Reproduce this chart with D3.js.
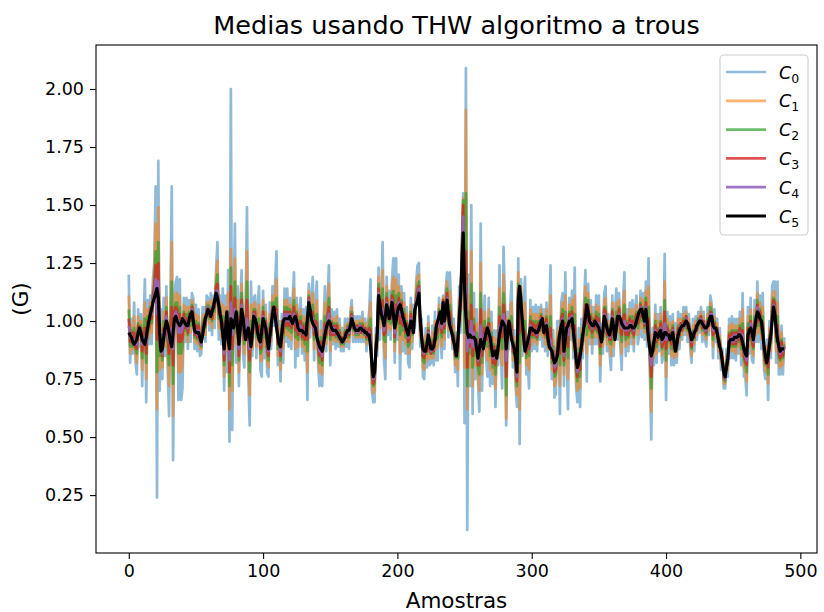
<!DOCTYPE html>
<html><head><meta charset="utf-8">
<script src="https://cdn.jsdelivr.net/npm/d3@7"></script>
<style>body{margin:0;background:#fff}svg{display:block}text{font-family:"DejaVu Sans",sans-serif;fill:#000}</style>
</head><body><svg id="chart" width="824" height="612"></svg>
<script>
const c0 = [
1.20,0.82,1.01,0.86,1.08,0.83,0.77,1.05,0.89,1.03,
0.72,0.99,1.18,0.65,1.09,0.90,1.11,0.90,1.18,1.25,
1.58,0.24,1.69,0.70,1.05,0.75,1.10,0.85,1.15,0.80,
0.59,1.06,1.58,0.40,1.11,1.17,1.19,0.66,1.18,0.66,
0.71,1.10,0.91,1.10,0.88,1.09,0.91,1.12,1.10,0.88,
1.07,0.87,1.05,0.85,0.86,1.06,1.06,0.91,1.11,1.10,
0.96,1.12,0.94,1.11,0.97,1.22,1.34,0.92,1.11,0.90,
1.14,0.70,1.11,0.78,1.22,0.48,2.00,0.53,1.05,1.42,
0.82,1.15,0.72,1.07,1.22,0.87,0.80,1.04,1.49,0.77,
0.55,1.17,0.85,1.10,1.11,0.84,1.07,1.15,0.79,0.76,
1.13,0.84,1.07,0.78,0.76,1.08,0.88,1.15,0.98,1.17,
1.30,0.81,1.00,0.74,1.03,0.82,1.14,0.91,1.14,0.89,
1.10,0.88,1.09,1.21,0.80,1.10,0.85,1.04,1.10,0.86,
1.05,0.83,1.06,0.66,1.16,0.93,1.11,1.19,0.83,1.09,
1.17,0.81,0.72,1.00,0.72,0.98,1.15,0.87,1.09,1.24,
0.81,1.05,0.90,1.04,0.88,1.05,0.89,1.01,0.87,0.97,
0.87,1.01,0.89,1.01,0.88,1.04,1.09,0.91,1.02,0.91,
1.02,0.91,1.02,0.91,1.04,0.91,1.01,0.87,0.99,1.04,
1.18,0.70,0.65,0.65,0.97,0.85,1.23,0.92,1.11,1.34,
0.84,0.75,1.19,0.94,1.13,0.92,1.18,1.27,0.82,1.27,
0.92,1.20,0.75,1.15,0.87,1.12,0.86,1.06,0.82,0.80,
1.10,0.88,1.07,0.97,1.17,1.24,1.25,0.89,1.01,0.76,
0.75,0.97,0.80,1.02,0.81,0.82,0.98,0.81,1.04,0.83,
0.83,1.10,0.94,0.84,1.11,0.88,1.14,1.21,0.93,1.21,
1.08,0.88,1.01,0.78,0.95,0.72,1.15,0.95,1.35,1.55,
0.56,2.09,0.10,1.20,0.72,1.50,0.60,1.12,0.75,1.05,
0.74,0.61,1.42,0.70,0.98,1.11,0.85,0.76,1.10,0.72,
1.04,0.73,0.96,0.63,0.96,0.81,1.24,0.87,0.71,1.32,
1.10,0.55,1.04,0.88,1.06,1.17,0.80,0.96,0.72,0.63,
1.27,0.47,1.18,0.85,1.05,1.19,0.77,0.83,0.71,1.09,
0.87,1.06,0.88,1.07,0.87,1.06,0.92,1.07,0.89,1.05,
0.87,1.08,0.85,0.99,1.24,0.75,0.96,0.67,0.69,1.00,
1.00,0.60,1.08,1.12,0.72,1.21,0.87,0.62,1.10,0.92,
1.13,0.84,1.23,0.72,0.65,0.97,0.63,1.01,0.84,1.08,
1.22,0.74,1.16,0.90,1.09,0.86,1.06,0.90,1.11,0.90,
1.11,0.74,0.99,0.86,1.12,1.15,0.87,1.03,0.86,0.79,
1.11,0.85,1.04,1.14,0.92,1.12,0.89,0.79,1.08,1.21,
0.85,1.05,0.87,1.08,0.90,1.09,0.87,1.06,1.11,0.90,
0.94,1.13,0.93,1.12,0.92,1.17,0.89,1.27,0.78,0.49,
0.97,0.81,1.07,0.82,1.03,0.87,1.06,0.82,0.85,1.29,
0.66,1.04,0.86,1.02,0.81,1.03,0.81,0.99,0.82,1.04,
0.88,1.03,0.92,1.06,0.94,1.06,0.91,1.03,0.89,0.82,
1.01,0.87,1.02,0.92,1.04,0.95,1.06,0.91,1.04,0.92,
0.89,1.06,0.94,1.11,1.07,0.84,1.05,0.91,1.01,0.84,
0.97,0.79,0.88,0.71,0.71,0.88,0.76,1.01,0.84,1.02,
0.84,1.01,0.83,1.01,0.86,1.04,0.81,1.12,0.76,0.76,
0.68,1.06,0.86,1.10,0.83,0.82,1.09,0.91,1.17,0.91,
1.11,0.88,1.12,0.79,0.75,0.92,0.66,1.00,0.84,1.15,
1.17,1.17,0.82,1.17,0.77,0.77,0.98,0.77,0.93];
const c1 = [
1.11,0.86,0.98,0.88,1.02,0.86,0.82,1.02,0.92,1.00,
0.79,0.96,1.08,0.75,1.05,0.93,1.08,0.95,1.15,1.20,
1.42,0.62,1.49,0.79,0.99,0.80,1.04,0.89,1.10,0.86,
0.72,1.01,1.34,0.59,1.08,1.12,1.12,0.78,1.11,0.78,
0.81,1.07,0.94,1.06,0.91,1.06,0.95,1.09,1.07,0.91,
1.03,0.90,1.02,0.88,0.88,1.02,1.03,0.94,1.08,1.08,
0.99,1.09,0.97,1.09,1.01,1.19,1.26,0.97,1.08,0.93,
1.07,0.76,1.06,0.87,1.12,0.62,1.31,0.70,1.02,1.27,
0.90,1.09,0.78,1.04,1.16,0.92,0.86,1.00,1.30,0.84,
0.68,1.07,0.88,1.07,1.08,0.89,1.03,1.07,0.83,0.83,
1.09,0.89,1.04,0.83,0.80,1.03,0.91,1.11,1.01,1.12,
1.18,0.85,0.97,0.79,1.00,0.88,1.09,0.94,1.09,0.93,
1.07,0.92,1.06,1.14,0.88,1.07,0.89,1.01,1.05,0.89,
1.02,0.87,1.02,0.78,1.13,0.97,1.08,1.12,0.88,1.05,
1.09,0.84,0.78,0.96,0.77,0.95,1.08,0.90,1.06,1.16,
0.87,1.02,0.92,1.01,0.91,1.02,0.91,0.98,0.89,0.95,
0.89,0.98,0.91,0.99,0.91,1.02,1.06,0.94,1.00,0.93,
1.00,0.93,1.00,0.93,1.01,0.93,0.99,0.90,0.97,1.01,
1.08,0.74,0.69,0.70,0.94,0.88,1.19,0.97,1.08,1.22,
0.89,0.84,1.15,0.97,1.09,0.96,1.15,1.19,0.87,1.18,
0.96,1.15,0.86,1.12,0.92,1.08,0.90,1.03,0.86,0.86,
1.07,0.91,1.03,1.00,1.14,1.19,1.20,0.93,0.98,0.80,
0.79,0.94,0.83,0.99,0.84,0.84,0.95,0.84,1.00,0.88,
0.89,1.07,0.97,0.89,1.10,0.92,1.11,1.17,0.96,1.13,
1.04,0.90,0.98,0.81,0.92,0.79,1.10,1.00,1.32,1.53,
0.80,1.91,0.62,1.11,0.80,1.30,0.72,1.05,0.81,0.99,
0.77,0.70,1.25,0.77,0.95,1.04,0.88,0.83,1.05,0.79,
0.99,0.77,0.93,0.71,0.92,0.84,1.14,0.90,0.81,1.20,
1.06,0.58,1.01,0.92,1.03,1.08,0.83,0.93,0.76,0.68,
1.21,0.62,1.15,0.90,1.01,1.08,0.81,0.86,0.79,1.05,
0.90,1.03,0.91,1.03,0.90,1.03,0.94,1.05,0.93,1.02,
0.90,1.05,0.88,0.96,1.11,0.79,0.92,0.72,0.74,0.95,
0.97,0.72,1.05,1.08,0.77,1.11,0.90,0.75,1.07,0.95,
1.09,0.88,1.11,0.76,0.70,0.92,0.71,0.97,0.87,1.05,
1.15,0.86,1.12,0.93,1.06,0.90,1.03,0.93,1.07,0.93,
1.06,0.81,0.96,0.89,1.09,1.10,0.90,1.00,0.89,0.85,
1.08,0.89,1.00,1.08,0.95,1.09,0.93,0.86,1.05,1.13,
0.89,1.02,0.90,1.05,0.93,1.05,0.90,1.03,1.07,0.94,
0.97,1.10,0.97,1.09,0.95,1.13,0.92,1.15,0.81,0.61,
0.94,0.84,1.03,0.86,1.00,0.90,1.03,0.85,0.88,1.17,
0.76,1.01,0.89,0.99,0.85,1.00,0.84,0.95,0.85,1.01,
0.91,1.01,0.94,1.03,0.96,1.04,0.94,1.01,0.91,0.85,
0.98,0.90,1.00,0.94,1.02,0.97,1.04,0.94,1.02,0.94,
0.92,1.03,0.96,1.08,1.05,0.89,1.02,0.93,0.99,0.87,
0.94,0.82,0.86,0.73,0.73,0.85,0.79,0.98,0.87,0.99,
0.87,0.98,0.86,0.98,0.89,1.01,0.85,1.05,0.80,0.79,
0.74,1.02,0.89,1.05,0.87,0.85,1.05,0.94,1.12,0.95,
1.08,0.92,1.06,0.82,0.78,0.89,0.73,0.97,0.87,1.10,
1.13,1.12,0.87,1.08,0.81,0.80,0.95,0.81,0.91];
const c2 = [
1.05,0.89,0.96,0.89,0.97,0.88,0.86,0.99,0.94,0.98,
0.84,0.94,1.01,0.82,1.02,0.96,1.06,0.99,1.12,1.16,
1.30,0.78,1.34,0.85,0.94,0.83,1.00,0.92,1.06,0.91,
0.81,0.97,1.17,0.73,1.05,1.08,1.08,0.86,1.06,0.86,
0.89,1.04,0.96,1.03,0.94,1.04,0.98,1.07,1.04,0.93,
1.00,0.92,0.99,0.90,0.89,0.99,1.01,0.97,1.06,1.07,
1.01,1.06,1.00,1.08,1.04,1.16,1.20,1.01,1.06,0.96,
1.02,0.81,1.02,0.94,1.04,0.72,1.23,0.81,1.00,1.17,
0.95,1.04,0.83,1.01,1.12,0.96,0.90,0.97,1.17,0.89,
0.78,1.00,0.91,1.05,1.05,0.93,1.00,1.01,0.86,0.88,
1.06,0.93,1.01,0.86,0.83,0.99,0.94,1.08,1.03,1.08,
1.10,0.88,0.94,0.83,0.98,0.93,1.06,0.97,1.06,0.96,
1.05,0.95,1.03,1.09,0.93,1.04,0.92,0.99,1.02,0.92,
0.99,0.90,0.99,0.87,1.11,1.00,1.05,1.07,0.92,1.02,
1.03,0.87,0.82,0.93,0.81,0.93,1.02,0.93,1.03,1.10,
0.92,1.00,0.94,0.99,0.93,0.99,0.92,0.96,0.90,0.93,
0.90,0.96,0.93,0.98,0.93,1.00,1.04,0.96,0.99,0.94,
0.98,0.94,0.99,0.95,0.99,0.94,0.97,0.92,0.96,0.98,
1.01,0.77,0.72,0.73,0.91,0.91,1.16,1.01,1.06,1.14,
0.92,0.91,1.12,1.00,1.06,0.99,1.12,1.13,0.91,1.11,
0.99,1.12,0.94,1.09,0.96,1.05,0.93,1.00,0.89,0.90,
1.04,0.94,1.00,1.02,1.11,1.15,1.17,0.96,0.96,0.83,
0.82,0.91,0.86,0.97,0.87,0.86,0.92,0.86,0.97,0.92,
0.93,1.05,1.00,0.93,1.09,0.95,1.08,1.14,0.99,1.07,
1.01,0.92,0.95,0.84,0.89,0.84,1.06,1.04,1.29,1.52,
0.95,1.55,0.72,1.04,0.86,1.16,0.80,1.01,0.85,0.95,
0.80,0.77,1.12,0.82,0.92,1.00,0.91,0.89,1.01,0.85,
0.95,0.80,0.90,0.77,0.89,0.86,1.06,0.93,0.88,1.12,
1.03,0.68,0.98,0.95,1.00,1.02,0.86,0.91,0.79,0.72,
1.16,0.82,1.12,0.94,0.98,1.00,0.84,0.88,0.85,1.02,
0.93,1.00,0.93,1.00,0.92,1.00,0.96,1.03,0.96,0.99,
0.93,1.02,0.90,0.93,1.02,0.82,0.89,0.76,0.77,0.91,
0.94,0.81,1.02,1.05,0.81,1.04,0.93,0.84,1.04,0.97,
1.06,0.91,1.03,0.79,0.74,0.88,0.76,0.94,0.90,1.02,
1.10,0.94,1.09,0.96,1.03,0.93,1.01,0.96,1.04,0.95,
1.03,0.86,0.94,0.92,1.06,1.06,0.93,0.98,0.91,0.90,
1.05,0.92,0.97,1.04,0.98,1.06,0.96,0.91,1.02,1.07,
0.92,1.00,0.93,1.02,0.95,1.02,0.93,1.01,1.04,0.97,
1.00,1.08,1.00,1.06,0.97,1.10,0.95,1.06,0.84,0.71,
0.91,0.87,1.00,0.89,0.97,0.92,1.00,0.88,0.90,1.09,
0.83,0.98,0.91,0.96,0.88,0.98,0.87,0.92,0.87,0.98,
0.93,0.99,0.96,1.01,0.97,1.02,0.96,0.99,0.93,0.88,
0.96,0.92,0.98,0.96,1.01,0.98,1.02,0.96,1.00,0.95,
0.94,1.01,0.98,1.06,1.04,0.92,1.00,0.95,0.97,0.89,
0.92,0.84,0.84,0.75,0.74,0.83,0.81,0.95,0.89,0.96,
0.89,0.96,0.89,0.96,0.91,0.98,0.88,0.99,0.83,0.82,
0.78,0.99,0.92,1.02,0.90,0.88,1.02,0.97,1.09,0.98,
1.05,0.95,1.02,0.85,0.81,0.86,0.77,0.94,0.90,1.06,
1.10,1.09,0.91,1.02,0.84,0.83,0.92,0.84,0.90];
const c3 = [
1.01,0.91,0.95,0.90,0.95,0.89,0.88,0.98,0.95,0.97,
0.87,0.93,0.97,0.86,1.00,0.97,1.05,1.01,1.11,1.14,
1.24,0.92,1.25,0.89,0.92,0.85,0.97,0.94,1.04,0.93,
0.86,0.95,1.06,0.81,1.04,1.06,1.05,0.91,1.03,0.91,
0.93,1.03,0.97,1.01,0.95,1.03,1.00,1.06,1.03,0.94,
0.98,0.93,0.98,0.91,0.90,0.97,1.00,0.98,1.05,1.06,
1.02,1.05,1.01,1.07,1.06,1.15,1.16,1.03,1.05,0.97,
0.99,0.83,1.00,0.97,1.00,0.78,1.15,0.88,0.99,1.10,
0.98,1.02,0.85,1.00,1.09,0.98,0.92,0.95,1.09,0.92,
0.83,0.96,0.92,1.04,1.04,0.95,0.98,0.98,0.88,0.91,
1.04,0.95,1.00,0.88,0.85,0.97,0.95,1.06,1.04,1.06,
1.05,0.90,0.93,0.85,0.97,0.95,1.04,0.98,1.04,0.98,
1.04,0.97,1.02,1.06,0.96,1.03,0.94,0.98,1.00,0.93,
0.98,0.92,0.97,0.92,1.10,1.02,1.04,1.04,0.94,1.00,
0.99,0.88,0.85,0.91,0.83,0.92,0.99,0.94,1.02,1.06,
0.94,0.99,0.94,0.98,0.94,0.98,0.93,0.95,0.91,0.93,
0.91,0.95,0.93,0.97,0.94,1.00,1.03,0.97,0.98,0.95,
0.98,0.95,0.98,0.95,0.98,0.95,0.97,0.93,0.95,0.97,
0.96,0.79,0.73,0.75,0.90,0.92,1.14,1.03,1.05,1.09,
0.94,0.95,1.10,1.01,1.04,1.01,1.11,1.09,0.93,1.07,
1.01,1.10,0.99,1.08,0.98,1.03,0.95,0.99,0.91,0.93,
1.03,0.95,0.98,1.03,1.10,1.13,1.15,0.98,0.95,0.85,
0.84,0.90,0.87,0.96,0.88,0.86,0.91,0.87,0.95,0.94,
0.96,1.04,1.01,0.95,1.09,0.97,1.07,1.12,1.00,1.04,
0.99,0.92,0.94,0.85,0.88,0.87,1.04,1.06,1.28,1.50,
1.05,1.30,0.80,1.00,0.89,1.07,0.85,0.98,0.88,0.92,
0.81,0.81,1.05,0.85,0.91,0.97,0.92,0.92,0.99,0.88,
0.93,0.82,0.89,0.81,0.87,0.87,1.02,0.94,0.93,1.07,
1.01,0.76,0.97,0.97,0.99,0.98,0.87,0.90,0.81,0.74,
1.14,0.95,1.11,0.96,0.96,0.95,0.86,0.89,0.88,1.00,
0.94,0.99,0.94,0.98,0.93,0.99,0.96,1.02,0.98,0.98,
0.94,1.01,0.91,0.92,0.97,0.84,0.87,0.78,0.79,0.89,
0.93,0.86,1.01,1.03,0.83,0.99,0.94,0.89,1.03,0.98,
1.04,0.93,0.98,0.81,0.76,0.86,0.79,0.92,0.91,1.01,
1.07,0.99,1.07,0.97,1.02,0.95,1.00,0.97,1.02,0.96,
1.01,0.89,0.93,0.93,1.05,1.04,0.94,0.97,0.92,0.92,
1.04,0.94,0.95,1.01,0.99,1.05,0.98,0.94,1.01,1.03,
0.94,0.99,0.94,1.01,0.96,1.00,0.94,1.00,1.03,0.99,
1.01,1.07,1.02,1.05,0.98,1.08,0.96,1.01,0.85,0.76,
0.90,0.88,0.98,0.91,0.96,0.93,0.99,0.89,0.91,1.04,
0.88,0.97,0.92,0.95,0.90,0.97,0.88,0.90,0.88,0.97,
0.94,0.99,0.96,1.00,0.98,1.02,0.97,0.99,0.93,0.89,
0.95,0.93,0.98,0.96,1.00,0.99,1.02,0.97,1.00,0.96,
0.95,1.00,0.98,1.04,1.03,0.94,0.99,0.95,0.97,0.90,
0.91,0.85,0.84,0.76,0.75,0.82,0.82,0.94,0.90,0.95,
0.90,0.95,0.90,0.95,0.92,0.97,0.90,0.96,0.85,0.83,
0.81,0.97,0.93,1.00,0.92,0.89,1.00,0.98,1.07,1.00,
1.04,0.97,0.99,0.86,0.82,0.85,0.80,0.93,0.91,1.04,
1.09,1.07,0.93,0.98,0.86,0.84,0.91,0.85,0.89];
const c4 = [
0.98,0.93,0.94,0.90,0.92,0.90,0.90,0.96,0.96,0.96,
0.90,0.92,0.93,0.90,0.98,0.99,1.04,1.03,1.09,1.12,
1.18,1.03,1.17,0.92,0.89,0.86,0.95,0.96,1.02,0.96,
0.91,0.93,0.97,0.88,1.02,1.04,1.02,0.95,1.00,0.95,
0.97,1.01,0.98,0.99,0.97,1.02,1.02,1.05,1.01,0.95,
0.96,0.94,0.96,0.92,0.90,0.95,0.99,1.00,1.04,1.06,
1.03,1.03,1.03,1.07,1.08,1.13,1.13,1.05,1.04,0.99,
0.96,0.86,0.98,1.01,0.96,0.83,1.08,0.94,0.98,1.05,
1.01,0.99,0.88,0.98,1.07,1.00,0.94,0.93,1.01,0.95,
0.88,0.92,0.94,1.03,1.02,0.97,0.96,0.95,0.90,0.94,
1.02,0.97,0.98,0.90,0.87,0.95,0.97,1.04,1.05,1.04,
1.01,0.92,0.91,0.87,0.96,0.98,1.03,1.00,1.03,1.00,
1.03,0.99,1.00,1.03,0.99,1.01,0.96,0.97,0.98,0.95,
0.96,0.94,0.95,0.97,1.09,1.04,1.02,1.01,0.96,0.98,
0.96,0.90,0.87,0.89,0.85,0.91,0.97,0.96,1.00,1.03,
0.97,0.98,0.95,0.97,0.95,0.96,0.93,0.94,0.91,0.92,
0.91,0.94,0.94,0.97,0.95,0.99,1.02,0.98,0.98,0.95,
0.97,0.95,0.98,0.96,0.97,0.95,0.96,0.94,0.95,0.95,
0.92,0.81,0.75,0.76,0.88,0.94,1.12,1.05,1.04,1.05,
0.96,0.99,1.08,1.03,1.02,1.03,1.09,1.06,0.95,1.03,
1.03,1.08,1.03,1.06,1.00,1.01,0.97,0.97,0.93,0.95,
1.01,0.97,0.96,1.04,1.08,1.11,1.14,1.00,0.94,0.87,
0.86,0.88,0.89,0.95,0.90,0.87,0.89,0.88,0.93,0.96,
0.98,1.03,1.03,0.97,1.08,0.99,1.05,1.10,1.02,1.01,
0.97,0.93,0.92,0.87,0.86,0.90,1.02,1.08,1.26,1.45,
1.10,1.15,0.87,0.96,0.91,1.00,0.89,0.95,0.90,0.90,
0.83,0.85,0.98,0.88,0.89,0.94,0.94,0.94,0.97,0.90,
0.91,0.84,0.87,0.84,0.85,0.88,0.98,0.96,0.97,1.03,
0.99,0.83,0.95,0.99,0.97,0.95,0.89,0.89,0.83,0.76,
1.11,1.06,1.09,0.98,0.94,0.91,0.88,0.90,0.91,0.98,
0.96,0.97,0.95,0.96,0.94,0.97,0.97,1.01,1.00,0.96,
0.96,0.99,0.92,0.90,0.92,0.86,0.85,0.80,0.81,0.87,
0.91,0.91,0.99,1.01,0.85,0.95,0.96,0.94,1.01,0.99,
1.02,0.95,0.94,0.83,0.78,0.84,0.82,0.90,0.93,0.99,
1.04,1.03,1.05,0.99,1.00,0.97,0.99,0.99,1.00,0.97,
0.99,0.92,0.92,0.95,1.03,1.02,0.96,0.96,0.93,0.95,
1.02,0.96,0.93,0.99,1.01,1.03,1.00,0.97,0.99,1.00,
0.96,0.98,0.96,0.99,0.97,0.98,0.96,0.99,1.01,1.01,
1.03,1.06,1.04,1.03,0.99,1.06,0.98,0.96,0.87,0.81,
0.88,0.90,0.96,0.93,0.94,0.94,0.97,0.91,0.92,0.99,
0.92,0.95,0.93,0.93,0.92,0.96,0.90,0.88,0.89,0.95,
0.95,0.98,0.97,0.99,0.98,1.01,0.98,0.98,0.94,0.91,
0.94,0.94,0.97,0.97,1.00,0.99,1.01,0.98,0.99,0.96,
0.96,0.99,0.99,1.03,1.03,0.96,0.98,0.96,0.96,0.91,
0.90,0.86,0.83,0.77,0.75,0.81,0.83,0.92,0.91,0.93,
0.91,0.94,0.92,0.94,0.93,0.95,0.92,0.94,0.87,0.85,
0.83,0.95,0.95,0.99,0.94,0.91,0.98,1.00,1.06,1.02,
1.02,0.99,0.97,0.88,0.84,0.83,0.83,0.91,0.93,1.02,
1.07,1.05,0.95,0.95,0.88,0.86,0.89,0.87,0.89];
const c5 = [
0.95,0.94,0.93,0.91,0.90,0.91,0.92,0.95,0.97,0.95,
0.92,0.91,0.90,0.93,0.97,1.00,1.03,1.05,1.08,1.10,
1.12,1.14,1.10,0.95,0.87,0.88,0.93,0.97,1.00,0.98,
0.95,0.91,0.89,0.95,1.01,1.02,1.00,0.99,0.98,0.99,
1.01,1.00,0.99,0.98,0.98,1.01,1.03,1.04,1.00,0.96,
0.95,0.95,0.95,0.93,0.91,0.94,0.98,1.01,1.03,1.05,
1.04,1.02,1.04,1.06,1.09,1.12,1.10,1.07,1.03,1.00,
0.94,0.88,0.96,1.04,0.92,0.88,1.01,1.00,0.97,1.00,
1.04,0.97,0.90,0.97,1.05,1.02,0.96,0.92,0.95,0.97,
0.93,0.89,0.95,1.02,1.01,0.99,0.95,0.92,0.91,0.96,
1.01,0.99,0.97,0.92,0.88,0.93,0.98,1.03,1.06,1.02,
0.97,0.93,0.90,0.89,0.95,1.00,1.01,1.01,1.01,1.01,
1.02,1.00,0.99,1.01,1.02,1.00,0.97,0.96,0.96,0.96,
0.95,0.95,0.94,1.01,1.08,1.05,1.01,0.99,0.98,0.97,
0.93,0.91,0.89,0.88,0.87,0.90,0.94,0.97,0.99,1.00,
0.99,0.97,0.96,0.96,0.96,0.95,0.94,0.93,0.92,0.91,
0.92,0.93,0.95,0.96,0.96,0.98,1.01,0.99,0.97,0.96,
0.96,0.96,0.97,0.97,0.96,0.96,0.95,0.95,0.94,0.94,
0.89,0.82,0.76,0.78,0.87,0.95,1.11,1.07,1.03,1.01,
0.98,1.02,1.07,1.04,1.01,1.04,1.08,1.03,0.97,1.00,
1.04,1.06,1.07,1.05,1.02,1.00,0.98,0.96,0.94,0.97,
1.00,0.98,0.95,1.05,1.07,1.09,1.12,1.01,0.93,0.88,
0.87,0.87,0.90,0.94,0.91,0.88,0.88,0.89,0.92,0.98,
1.00,1.02,1.04,0.99,1.08,1.00,1.04,1.09,1.03,0.98,
0.96,0.94,0.91,0.88,0.85,0.92,1.00,1.10,1.25,1.38,
1.15,1.02,0.95,0.93,0.94,0.93,0.93,0.93,0.92,0.88,
0.84,0.88,0.92,0.90,0.88,0.92,0.95,0.97,0.95,0.93,
0.89,0.85,0.86,0.87,0.84,0.89,0.94,0.97,1.00,0.99,
0.98,0.88,0.94,1.00,0.96,0.92,0.90,0.88,0.84,0.78,
1.09,1.15,1.08,1.00,0.93,0.87,0.89,0.91,0.94,0.97,
0.97,0.96,0.96,0.95,0.95,0.96,0.98,1.00,1.01,0.95,
0.97,0.98,0.93,0.89,0.88,0.87,0.84,0.82,0.83,0.85,
0.90,0.95,0.98,1.00,0.87,0.92,0.97,0.98,1.00,1.00,
1.01,0.96,0.90,0.84,0.80,0.82,0.85,0.89,0.94,0.98,
1.02,1.07,1.04,1.00,0.99,0.98,0.98,1.00,0.99,0.98,
0.97,0.94,0.91,0.96,1.02,1.00,0.97,0.95,0.94,0.97,
1.01,0.97,0.92,0.97,1.02,1.02,1.01,0.99,0.98,0.97,
0.97,0.97,0.97,0.98,0.98,0.97,0.97,0.98,1.00,1.02,
1.04,1.05,1.05,1.02,1.00,1.05,0.99,0.92,0.88,0.85,
0.87,0.91,0.95,0.94,0.93,0.95,0.96,0.92,0.93,0.95,
0.95,0.94,0.94,0.92,0.93,0.95,0.91,0.87,0.90,0.94,
0.96,0.97,0.98,0.98,0.99,1.00,0.99,0.97,0.95,0.92,
0.93,0.95,0.96,0.98,0.99,1.00,1.00,0.99,0.98,0.97,
0.97,0.98,1.00,1.02,1.02,0.98,0.97,0.97,0.95,0.92,
0.89,0.87,0.82,0.78,0.76,0.80,0.84,0.91,0.92,0.92,
0.92,0.93,0.93,0.93,0.94,0.94,0.93,0.91,0.88,0.86,
0.85,0.94,0.96,0.97,0.95,0.92,0.97,1.01,1.04,1.03,
1.01,1.00,0.95,0.89,0.85,0.82,0.85,0.90,0.94,1.00,
1.06,1.03,0.97,0.92,0.89,0.87,0.88,0.88,0.88];

const seriesIndex = ["0","1","2","3","4","5"];
const xTicks = [0,100,200,300,400,500];
const yTicks = [0.25,0.50,0.75,1.00,1.25,1.50,1.75,2.00];
const titleText = "Medias usando THW algoritmo a trous";
const xLabel = "Amostras";
const yLabel = "(G)";

// styles (kept separate from the data)
const colors = ["#1f77b4","#ff7f0e","#2ca02c","#d62728","#9467bd","#000000"];
const alphas = [0.5,0.6,0.7,0.8,0.9,1.0];
const widths = [2.7,2.7,2.7,2.7,2.7,3.2];

const series = [c0,c1,c2,c3,c4,c5];
const W = 824, H = 612;
const m = {left:96, right:817, top:45, bottom:553};
const n = c0.length;
const xPad = 0.05*(n-1);
const x = d3.scaleLinear().domain([-xPad, (n-1)+xPad]).range([m.left, m.right]);
const allVals = series.flat();
const [vmin, vmax] = d3.extent(allVals);
const yPad = 0.05*(vmax - vmin);
const y = d3.scaleLinear().domain([vmin - yPad, vmax + yPad]).range([m.bottom, m.top]);

const svg = d3.select("#chart");
svg.append("rect").attr("width",W).attr("height",H).attr("fill","#fff");

svg.append("defs").append("clipPath").attr("id","clip")
  .append("rect").attr("x",m.left).attr("y",m.top).attr("width",m.right-m.left).attr("height",m.bottom-m.top);

const line = d3.line().x((d,i)=>x(i)).y(d=>y(d));
const g = svg.append("g").attr("clip-path","url(#clip)");
series.forEach((s,k)=>{
  g.append("path").datum(s).attr("d",line)
    .attr("fill","none").attr("stroke",colors[k]).attr("stroke-opacity",alphas[k])
    .attr("stroke-width",widths[k]).attr("stroke-linejoin","round").attr("stroke-linecap","butt");
});

// axes
const xAxis = d3.axisBottom(x).tickValues(xTicks).tickFormat(d3.format("d")).tickSize(6).tickPadding(6);
const yAxis = d3.axisLeft(y).tickValues(yTicks).tickFormat(d3.format(".2f")).tickSize(6).tickPadding(6);
const gx = svg.append("g").attr("transform",`translate(0,${m.bottom})`).call(xAxis);
const gy = svg.append("g").attr("transform",`translate(${m.left},0)`).call(yAxis);
[gx,gy].forEach(a=>{
  a.select(".domain").remove();
  a.selectAll(".tick line").attr("stroke","#000").attr("stroke-width",1.1);
  a.selectAll(".tick text").attr("font-size",17.5).attr("font-family","DejaVu Sans").attr("fill","#000");
});

svg.append("rect").attr("x",m.left).attr("y",m.top).attr("width",m.right-m.left).attr("height",m.bottom-m.top)
  .attr("fill","none").attr("stroke","#000").attr("stroke-width",1.1);

svg.append("text").attr("x",(m.left+m.right)/2).attr("y",34).attr("text-anchor","middle")
  .attr("font-size",25.5).text(titleText);
svg.append("text").attr("x",(m.left+m.right)/2).attr("y",608).attr("text-anchor","middle")
  .attr("font-size",21.5).text(xLabel);
svg.append("text").attr("transform",`translate(28,${(m.top+m.bottom)/2}) rotate(-90)`).attr("text-anchor","middle")
  .attr("font-size",21.5).text(yLabel);

// legend
const lg = svg.append("g");
lg.append("rect").attr("x",720).attr("y",55).attr("width",88).attr("height",180).attr("rx",4)
  .attr("fill","#fff").attr("fill-opacity",0.8).attr("stroke","#cccccc").attr("stroke-width",1.1);
seriesIndex.forEach((lab,k)=>{
  const yy = 72 + k*28.8;
  lg.append("line").attr("x1",726).attr("x2",766).attr("y1",yy).attr("y2",yy)
    .attr("stroke",colors[k]).attr("stroke-opacity",alphas[k]).attr("stroke-width",widths[k]);
  const t = lg.append("text").attr("x",779).attr("y",yy+6.5).attr("font-size",17.5);
  t.append("tspan").attr("font-style","italic").text("C");
  t.append("tspan").attr("font-size",12.5).attr("dy",4).text(lab);
});
</script></body></html>
